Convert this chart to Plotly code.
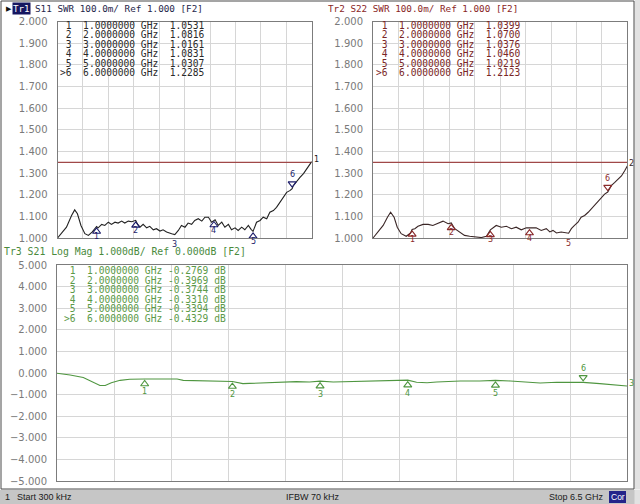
import plotly.graph_objects as go

W, H = 640, 504

# ---------------- data ----------------
f_start_ghz = 0.0003
f_stop_ghz = 6.5

s11_freq = [0.0003, 0.10, 0.23, 0.36, 0.44, 0.51, 0.60, 0.70, 0.79, 0.89, 0.95, 1.00, 1.04, 1.13, 1.21,
            1.30, 1.38, 1.47, 1.55, 1.64, 1.72, 1.81, 1.90, 2.00, 2.05, 2.11, 2.19, 2.28, 2.36, 2.45,
            2.53, 2.62, 2.70, 2.79, 2.92, 3.00, 3.09, 3.17, 3.26, 3.34, 3.43, 3.51, 3.60, 3.69, 3.77,
            3.86, 3.94, 4.00, 4.03, 4.11, 4.20, 4.28, 4.37, 4.45, 4.54, 4.62, 4.71, 4.79, 4.88, 4.95,
            5.00, 5.09, 5.18, 5.26, 5.35, 5.43, 5.52, 5.60, 5.69, 5.78, 5.86, 5.95, 6.00, 6.03, 6.12,
            6.20, 6.29, 6.37, 6.46, 6.50]
s11_swr = [1.000, 1.020, 1.050, 1.104, 1.130, 1.112, 1.058, 1.020, 1.012, 1.028, 1.040, 1.0531, 1.047, 1.063, 1.058,
           1.073, 1.063, 1.073, 1.069, 1.078, 1.069, 1.078, 1.075, 1.0816, 1.063, 1.050, 1.063, 1.047, 1.054, 1.038,
           1.043, 1.032, 1.038, 1.028, 1.020, 1.0161, 1.035, 1.058, 1.050, 1.069, 1.063, 1.081, 1.089, 1.078, 1.096,
           1.096, 1.073, 1.0831, 1.084, 1.058, 1.073, 1.050, 1.063, 1.038, 1.047, 1.035, 1.050, 1.038, 1.058, 1.040,
           1.0307, 1.073, 1.081, 1.096, 1.089, 1.119, 1.127, 1.142, 1.165, 1.188, 1.211, 1.220, 1.2285, 1.242, 1.265,
           1.280, 1.298, 1.318, 1.341, 1.353]

s22_freq = [0.0003, 0.13, 0.26, 0.37, 0.45, 0.54, 0.62, 0.72, 0.85, 0.96, 1.00, 1.07, 1.15, 1.28, 1.41,
            1.53, 1.66, 1.79, 1.92, 2.00, 2.09, 2.22, 2.34, 2.47, 2.60, 2.77, 2.90, 3.00, 3.15, 3.28,
            3.41, 3.54, 3.66, 3.79, 3.92, 4.00, 4.17, 4.30, 4.43, 4.52, 4.60, 4.69, 4.81, 5.00, 5.07,
            5.15, 5.24, 5.32, 5.41, 5.50, 5.58, 5.67, 5.75, 5.84, 5.92, 6.00, 6.09, 6.18, 6.26, 6.35,
            6.43, 6.50]
s22_swr = [1.000, 1.028, 1.058, 1.096, 1.119, 1.096, 1.050, 1.020, 1.008, 1.023, 1.0399, 1.043, 1.054, 1.063, 1.063,
           1.058, 1.069, 1.078, 1.066, 1.0700, 1.043, 1.028, 1.012, 1.008, 1.005, 1.002, 1.008, 1.0376, 1.058, 1.050,
           1.054, 1.043, 1.050, 1.038, 1.047, 1.0460, 1.047, 1.035, 1.043, 1.028, 1.035, 1.023, 1.028, 1.0219, 1.043,
           1.058, 1.073, 1.096, 1.104, 1.119, 1.135, 1.157, 1.173, 1.188, 1.203, 1.2123, 1.242, 1.257, 1.272, 1.287,
           1.310, 1.333]

s21_freq = [0.0003, 0.15, 0.30, 0.41, 0.49, 0.55, 0.62, 0.72, 0.83, 1.00, 1.14, 1.29, 1.37, 1.44, 1.63,
            1.82, 2.00, 2.12, 2.28, 2.43, 2.58, 2.73, 2.88, 3.00, 3.15, 3.30, 3.38, 3.53, 3.68, 3.83,
            4.00, 4.10, 4.22, 4.33, 4.44, 4.60, 4.82, 5.00, 5.17, 5.36, 5.51, 5.70, 5.89, 6.00, 6.19,
            6.38, 6.50]
s21_db = [-0.015, -0.09, -0.21, -0.43, -0.58, -0.58, -0.45, -0.34, -0.29, -0.2769, -0.28, -0.28, -0.28, -0.34, -0.37,
          -0.38, -0.3969, -0.49, -0.46, -0.45, -0.43, -0.40, -0.42, -0.3744, -0.42, -0.40, -0.38, -0.37, -0.35, -0.34,
          -0.3310, -0.43, -0.45, -0.42, -0.40, -0.37, -0.37, -0.3394, -0.37, -0.43, -0.46, -0.43, -0.42, -0.4329, -0.49,
          -0.55, -0.60]

marker_freq = [1.0, 2.0, 3.0, 4.0, 5.0, 6.0]
marker_ids = ["1", "2", "3", "4", "5", ">6"]
s11_markers = [1.0531, 1.0816, 1.0161, 1.0831, 1.0307, 1.2285]
s22_markers = [1.0399, 1.0700, 1.0376, 1.0460, 1.0219, 1.2123]
s21_markers = [-0.2769, -0.3969, -0.3744, -0.3310, -0.3394, -0.4329]

swr_range = [1.0, 2.0]
swr_step = 0.1
db_range = [-5.0, 5.0]
db_step = 1.0
swr_limit = 1.35
swr_ref = 1.0
db_ref = 0.0

# ---------------- styling ----------------
MONO = "DejaVu Sans Mono"
SANS = "DejaVu Sans"
GRID = "#d6d6d6"
FRAME = "#7c7c7c"
TICK = "#7a7a7a"

fig = go.Figure()


def px_x(p):
    return p / W


def px_y(p):
    return 1 - p / H


def add_panel(idx, px, py, yrange, ystep, freq, vals, mvals, trace_col, mark_col,
              ref, end_label, num_shift, limit=None):
    s = "" if idx == 1 else str(idx)
    xa, ya = "x" + s, "y" + s
    x0, x1 = px
    ytop, ybot = py
    kx = (f_stop_ghz - f_start_ghz) / (x1 - x0)
    ky = (yrange[1] - yrange[0]) / (ybot - ytop)
    fig.update_layout({
        "xaxis" + s: dict(domain=[x0 / W, x1 / W], range=[f_start_ghz, f_stop_ghz], anchor=ya,
                          tick0=f_start_ghz, dtick=(f_stop_ghz - f_start_ghz) / 10, automargin=False,
                          showticklabels=False, ticks="", showgrid=True, gridcolor=GRID, gridwidth=1,
                          zeroline=False, showline=True, linecolor=FRAME, linewidth=1, mirror=True),
        "yaxis" + s: dict(domain=[1 - ybot / H, 1 - ytop / H], range=list(yrange), anchor=xa,
                          tick0=yrange[0], dtick=ystep, tickformat=".3f", ticks="", automargin=False,
                          ticklabelstandoff=7,
                          tickfont=dict(family=SANS, size=10, color=TICK),
                          showgrid=True, gridcolor=GRID, gridwidth=1, zeroline=False,
                          showline=True, linecolor=FRAME, linewidth=1, mirror=True),
    })
    common = dict(xaxis=xa, yaxis=ya, hoverinfo="skip", showlegend=False, cliponaxis=False)
    if limit is not None:
        fig.add_trace(go.Scatter(x=[f_start_ghz, f_stop_ghz], y=[limit, limit], mode="lines",
                                 line=dict(color="#a04848", width=1.3), **common))
    fig.add_trace(go.Scatter(x=freq, y=vals, mode="lines",
                             line=dict(color=trace_col, width=1.1), **common))
    # inactive markers on trace
    fig.add_trace(go.Scatter(x=marker_freq[:5], y=[v - 5 * ky for v in mvals[:5]], mode="markers",
                             marker=dict(symbol="triangle-up-open", size=7, color=mark_col,
                                         line=dict(width=1.1, color=mark_col)), **common))
    # active marker on trace
    fig.add_trace(go.Scatter(x=marker_freq[5:], y=[mvals[5] + 5 * ky], mode="markers",
                             marker=dict(symbol="triangle-down-open", size=7, color=mark_col,
                                         line=dict(width=1.1, color=mark_col)), **common))
    for i in range(5):
        fig.add_annotation(x=marker_freq[i], y=mvals[i], xref=xa, yref=ya, text=marker_ids[i],
                           showarrow=False, yshift=num_shift, font=dict(family=SANS, size=8, color=mark_col))
    fig.add_annotation(x=marker_freq[5], y=mvals[5], xref=xa, yref=ya, text=marker_ids[5][-1],
                       showarrow=False, yshift=14, font=dict(family=SANS, size=8, color=mark_col))
    # markers on the frequency axis
    ybase = yrange[0] - 4 * ky
    fig.add_trace(go.Scatter(x=marker_freq[:5], y=[ybase] * 5, mode="markers",
                             marker=dict(symbol="triangle-up-open", size=8, color=mark_col,
                                         line=dict(width=1, color=mark_col)), **common))
    fig.add_trace(go.Scatter(x=marker_freq[5:], y=[ybase], mode="markers",
                             marker=dict(symbol="triangle-up", size=8, color=mark_col,
                                         line=dict(width=0)), **common))
    # reference level arrows
    fig.add_trace(go.Scatter(x=[f_start_ghz - 4 * kx], y=[ref], mode="markers",
                             marker=dict(symbol="triangle-right", size=8, color=mark_col), **common))
    fig.add_trace(go.Scatter(x=[f_stop_ghz + 4 * kx], y=[ref], mode="markers",
                             marker=dict(symbol="triangle-left", size=8, color=mark_col), **common))
    # trace number at end
    fig.add_annotation(x=freq[-1], y=vals[-1], xref=xa, yref=ya, text=end_label, showarrow=False,
                       xanchor="left", xshift=0, yshift=2, font=dict(family=SANS, size=8, color=trace_col))


add_panel(1, (57.5, 311.7), (21.7, 238.0), swr_range, swr_step, s11_freq, s11_swr, s11_markers,
          "#222222", "#1c1c6a", swr_ref, "1", -10, limit=swr_limit)
add_panel(2, (373.0, 627.3), (21.7, 238.0), swr_range, swr_step, s22_freq, s22_swr, s22_markers,
          "#3a2626", "#8a2a2a", swr_ref, "2", -10, limit=swr_limit)
add_panel(3, (57.0, 627.0), (265.0, 481.0), db_range, db_step, s21_freq, s21_db, s21_markers,
          "#4f9640", "#4f9640", db_ref, "3", -13)


def txt(x, y, s, color, size=9.6, family=MONO, anchor="left", bg=None):
    fig.add_annotation(x=px_x(x), y=px_y(y), xref="paper", yref="paper", text=s, showarrow=False,
                       xanchor=anchor, yanchor="middle", font=dict(family=family, size=size, color=color),
                       bgcolor=bg, borderpad=0)


# marker tables
row_y = [25.0, 34.5, 44.0, 53.5, 63.0, 72.5]
for i in range(6):
    txt(58.8, row_y[i], f"{marker_ids[i]:>2}  {marker_freq[i]:.7f} GHz  {s11_markers[i]:.4f}".replace(" ", "&nbsp;"), "#2a2a2a")
    txt(374.5, row_y[i], f"{marker_ids[i]:>2}  {marker_freq[i]:.7f} GHz  {s22_markers[i]:.4f}".replace(" ", "&nbsp;"), "#7a2626")
for i in range(6):
    txt(63.3, 270.7 + 9.55 * i, f"{marker_ids[i]:>2}  {marker_freq[i]:.7f} GHz {s21_markers[i]:.4f} dB".replace(" ", "&nbsp;"), "#5c9a48")

# headers
fig.add_annotation(x=px_x(4), y=px_y(8.5), xref="paper", yref="paper", text="▶", showarrow=False,
                   xanchor="left", yanchor="middle", font=dict(family=SANS, size=7, color="#111111"))
txt(12, 8.5, "Tr1", "#ffffff", size=9.2, bg="#161660")
txt(33.5, 8.5, "S11 SWR 100.0m/ Ref 1.000 [F2]".replace(" ", "&nbsp;"), "#26264a", size=9.3)
txt(327, 8.5, "Tr2 S22 SWR 100.0m/ Ref 1.000 [F2]".replace(" ", "&nbsp;"), "#8a2626", size=9.3)
txt(2.5, 251, "Tr3 S21 Log Mag 1.000dB/ Ref 0.000dB [F2]".replace(" ", "&nbsp;"), "#4a8a3c", size=9.8)

# status bar
fig.add_shape(type="rect", xref="paper", yref="paper", x0=0, x1=1, y0=0, y1=px_y(489.5),
              fillcolor="#c6c6c6", line=dict(width=0), layer="below")
fig.add_shape(type="line", xref="paper", yref="paper", x0=0, x1=1, y0=px_y(489.5), y1=px_y(489.5),
              line=dict(color="#f0f0f0", width=1))
txt(4, 497, "1", "#202020", size=9, family="Liberation Sans")
txt(15.5, 497, "Start 300 kHz", "#202020", size=9, family="Liberation Sans")
txt(285, 497, "IFBW 70 kHz", "#202020", size=9, family="Liberation Sans")
txt(605, 497, "Stop 6.5 GHz", "#202020", size=9, family="Liberation Sans", anchor="right")
fig.add_shape(type="rect", xref="paper", yref="paper", x0=px_x(609), x1=px_x(626), y0=px_y(503),
              y1=px_y(491), fillcolor="#24248a", line=dict(width=0))
txt(617.5, 497, "Cor", "#ffffff", size=8.5, family="Liberation Sans", anchor="center")

# outer frame
fig.add_shape(type="rect", xref="paper", yref="paper", x0=px_x(1), x1=px_x(634), y0=px_y(489),
              y1=px_y(1), line=dict(color="#4a4a4a", width=1))
fig.add_shape(type="rect", xref="paper", yref="paper", x0=px_x(634.5), x1=1, y0=0, y1=1,
              fillcolor="#e2e2e2", line=dict(width=0), layer="below")

fig.update_layout(width=W, height=H, margin=dict(l=0, r=0, t=0, b=0, pad=0, autoexpand=False),
                  template="none", hovermode=False,
                  paper_bgcolor="#ffffff", plot_bgcolor="#ffffff", showlegend=False)

fig.write_html("out.html", config={"displayModeBar": False, "staticPlot": True},
               post_script="document.body.style.margin='0px';document.body.style.overflow='hidden';")
